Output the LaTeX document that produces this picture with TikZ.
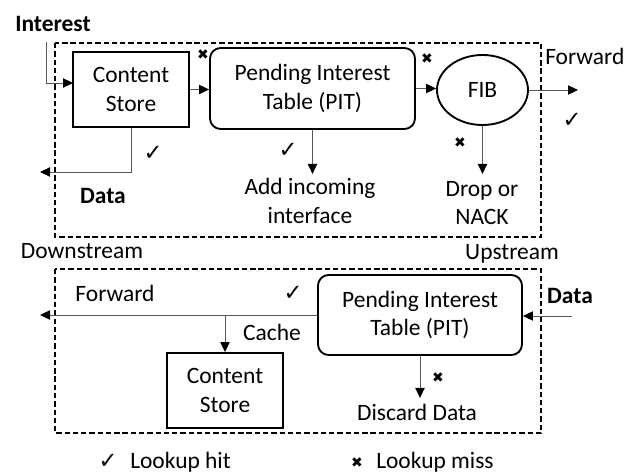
\documentclass[tikz,border=0pt]{standalone}
\usepackage{fontspec}
\setmainfont{Carlito}
\newfontfamily\symfont{DejaVu Sans}
\usetikzlibrary{arrows.meta,shapes.geometric}

\tikzset{
  lbl/.style={inner sep=0pt, font=\fontsize{17.6pt}{21.4pt}\selectfont},
  blbl/.style={lbl, font=\fontsize{17.6pt}{21.4pt}\selectfont\bfseries},
  blockbox/.style={draw, line width=1.4pt, inner sep=0pt, align=center,
    font=\fontsize{17.6pt}{21.4pt}\selectfont},
  roundbox/.style={blockbox, rounded corners=8pt},
  fibshape/.style={blockbox, ellipse},
  frame/.style={line width=1.3pt, dash pattern=on 4pt off 2.2pt},
  conn/.style={draw=black!65, line width=0.7pt,
    -{Triangle[length=7.5pt,width=7pt,fill=black,color=black]}},
  hit/.style={inner sep=0pt, font=\symfont\fontsize{17pt}{17pt}\selectfont},
  miss/.style={inner sep=0pt, font=\symfont\fontsize{10.5pt}{10.5pt}\selectfont},
}

\begin{document}
\begin{tikzpicture}[x=0.75pt,y=-0.75pt]
\useasboundingbox (0,0) rectangle (625,474);

% ---------- Interest processing ----------
\draw[frame] (55,43) rectangle (541,237);

\node[blockbox, minimum width=87pt, minimum height=56.25pt] (tcs) at (131,89.5) {Content\\Store};
\node[roundbox, minimum width=153.75pt, minimum height=60.75pt] (tpit) at (312.5,88.5) {Pending Interest\\Table (PIT)};
\node[fibshape, minimum width=68.25pt, minimum height=52.5pt] (fib) at (482.5,90) {FIB};

\node[blbl, anchor=base] (interest) at (53,32) {Interest};
\coordinate (inS) at (46,42);
\coordinate (inT) at (73,83);
\draw[conn] (inS) |- (inT);

\draw[conn] (tcs.east) -- (tcs.east -| tpit.west);
\draw[conn] (tpit.east) -- (tpit.east -| fib.west);

\coordinate (fwdT) at (578,90);
\draw[conn] (fib.east) -- (fwdT);
\node[lbl, anchor=base west] (fwdtop) at (545,65) {Forward};

\coordinate (dataT) at (40,172);
\draw[conn] (tcs.south) |- (dataT);
\node[blbl, anchor=base] (datatop) at (103,204) {Data};

\draw[conn] (tpit.south) -- ++(0,44) coordinate (addT);
\node[lbl, align=center] (addif) at (310,201) {Add incoming\\interface};

\draw[conn] (fib.south) -- ++(0,48) coordinate (dropT);
\node[lbl, align=center] (drop) at (482,203) {Drop or\\NACK};

% marks
\node[miss] (m1) at (203,55) {✖};
\node[miss] (m2) at (427,59) {✖};
\node[miss] (m3) at (460,143) {✖};
\node[hit] (h1) at (153,153) {✓};
\node[hit] (h2) at (288,150) {✓};
\node[hit] (h3) at (572,120) {✓};

\node[lbl, anchor=base] (down) at (82,258) {Downstream};
\node[lbl, anchor=base] (up) at (512,259) {Upstream};

% ---------- Data processing ----------
\draw[frame] (55,269) rectangle (541,433);

\node[roundbox, minimum width=153pt, minimum height=60pt] (bpit) at (420,315) {Pending Interest\\Table (PIT)};
\node[blockbox, minimum width=87pt, minimum height=56.25pt] (bcs) at (225,390.5) {Content\\Store};

\coordinate (dataS) at (572,316);
\draw[conn] (dataS) -- (dataS -| bpit.east);
\node[blbl, anchor=base] (databot) at (570,303) {Data};

\coordinate (fwdB) at (40,315);
\draw[conn] (bpit.west) -- (fwdB);
\node[lbl, anchor=base] (fwdbot) at (115,301) {Forward};

\draw[conn] (bcs.north |- bpit.west) -- (bcs.north);
\node[lbl, anchor=base] (cache) at (272,340) {Cache};

\draw[conn] (bpit.south) -- ++(0,42) coordinate (discT);
\node[lbl, anchor=base] (discard) at (417,420) {Discard Data};

\node[hit] (h4) at (293,293) {✓};
\node[miss] (m4) at (438,378) {✖};

% ---------- legend ----------
\node[hit] (lh) at (108,461) {✓};
\node[lbl, anchor=base west] (lhit) at (130,468) {Lookup hit};
\node[miss] (lm) at (357,463) {✖};
\node[lbl, anchor=base west] (lmiss) at (376,468) {Lookup miss};
\end{tikzpicture}
\end{document}
